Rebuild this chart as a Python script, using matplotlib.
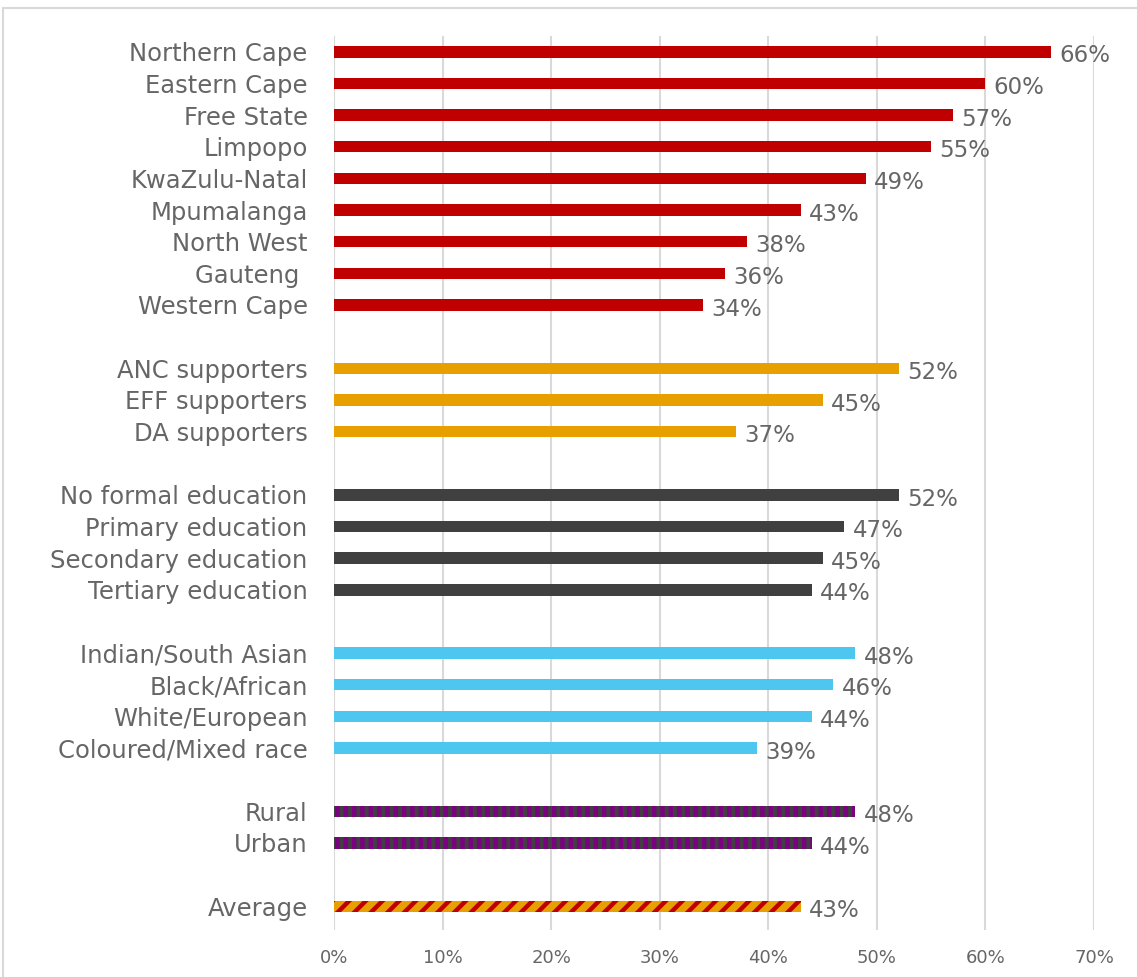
import matplotlib
matplotlib.use("Agg")
import matplotlib.pyplot as plt
from matplotlib.patches import Rectangle
from matplotlib.ticker import FuncFormatter

plt.rcParams['font.family'] = ['DejaVu Sans']
plt.rcParams['hatch.linewidth'] = 3.2

provinces = ["Northern Cape", "Eastern Cape", "Free State", "Limpopo", "KwaZulu-Natal",
             "Mpumalanga", "North West", "Gauteng ", "Western Cape"]
province_vals = [66, 60, 57, 55, 49, 43, 38, 36, 34]

parties = ["ANC supporters", "EFF supporters", "DA supporters"]
party_vals = [52, 45, 37]

education = ["No formal education", "Primary education", "Secondary education", "Tertiary education"]
education_vals = [52, 47, 45, 44]

race = ["Indian/South Asian", "Black/African", "White/European", "Coloured/Mixed race"]
race_vals = [48, 46, 44, 39]

area = ["Rural", "Urban"]
area_vals = [48, 44]

average = ["Average"]
average_vals = [43]

x_ticks = [0, 10, 20, 30, 40, 50, 60, 70]

groups = [
    (provinces, province_vals, dict(color="#C00000")),
    (parties, party_vals, dict(color="#E8A000")),
    (education, education_vals, dict(color="#404040")),
    (race, race_vals, dict(color="#4DC6F0")),
    (area, area_vals, dict(facecolor="#404040", edgecolor="#7B0082", hatch="||", linewidth=0)),
    (average, average_vals, dict(facecolor="#E8A000", edgecolor="#C00000", hatch="//", linewidth=0)),
]

W, H = 1137, 977
fig = plt.figure(figsize=(W / 100, H / 100), dpi=100)
fig.patch.set_facecolor("white")
fig.patches.append(Rectangle((3 / W, -0.01), 1.2, 1 - 8 / H + 0.01, transform=fig.transFigure,
                             fill=False, edgecolor="#D9D9D9", linewidth=1.5))

ax = fig.add_axes([334 / W, 1 - 930 / H, (1094 - 334) / W, (930 - 36) / H])

text_color = "#666666"
pos = 0
yticks, ylabels = [], []
for labels, vals, style in groups:
    for lab, v in zip(labels, vals):
        ax.barh(pos, v / 100, height=0.36, zorder=3, **style)
        ax.annotate(f"{v}%", (v / 100, pos), xytext=(6, -3), textcoords="offset points",
                    va="center", ha="left", fontsize=16.5, color=text_color)
        yticks.append(pos)
        ylabels.append(lab)
        pos += 1
    pos += 1

ax.set_ylim(27.75, -0.5)
ax.set_xlim(0, 0.7)
ax.set_yticks(yticks)
ax.set_yticklabels(ylabels, fontsize=17.5, color=text_color)
ax.set_xticks([t / 100 for t in x_ticks])
ax.xaxis.set_major_formatter(FuncFormatter(lambda x, p: f"{x * 100:.0f}%"))
ax.tick_params(axis="x", labelsize=13, colors=text_color, length=0, pad=14)
ax.tick_params(axis="y", length=0, pad=19)
ax.grid(axis="x", color="#D9D9D9", linewidth=1.5, zorder=0)
for s in ax.spines.values():
    s.set_visible(False)

fig.savefig("out.png", dpi=100)
